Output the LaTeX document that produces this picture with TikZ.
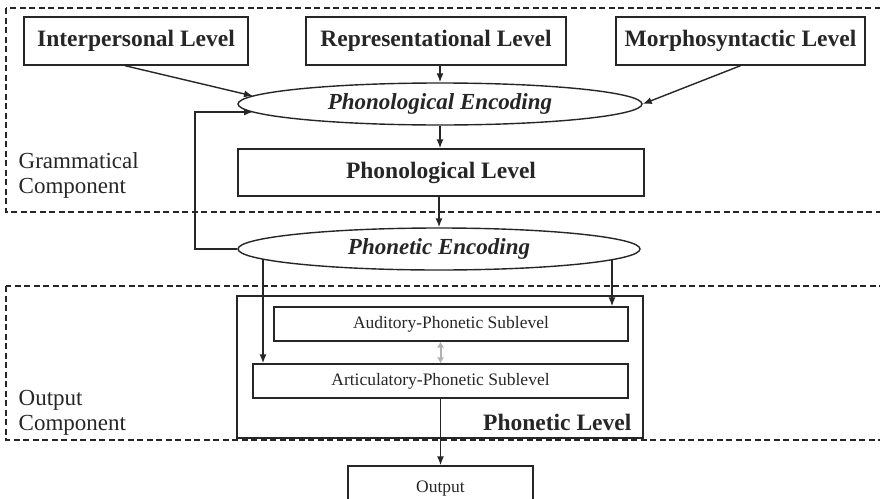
\documentclass[tikz,border=0pt]{standalone}
\usepackage{fontspec}
\setmainfont{Liberation Serif}
\usetikzlibrary{shapes.geometric,arrows.meta,backgrounds}
\definecolor{ink}{HTML}{262626}
\tikzset{
  box/.style={draw=ink, line width=1.4pt, rectangle, inner sep=0pt, text=ink},
  levelbox/.style={box, font=\fontsize{23.5}{27}\selectfont\bfseries},
  subbox/.style={box, font=\fontsize{17.5}{20}\selectfont},
  encoder/.style={draw=ink, line width=1.4pt, fill=white, ellipse, inner sep=0pt, text=ink,
    font=\fontsize{23}{26}\selectfont\bfseries\itshape},
  component/.style={dash pattern=on 6pt off 3.5pt, draw=ink, line width=1.2pt},
  complabel/.style={align=left, anchor=west, inner sep=0pt,
    font=\fontsize{23}{25}\selectfont, text=ink},
  link/.style={draw=ink, line width=1.4pt, -{Latex[length=9pt,width=7pt]}},
  softlink/.style={draw=gray!60, line width=2pt,
    {Latex[length=6pt,width=7.5pt]}-{Latex[length=6pt,width=7.5pt]}},
}
\begin{document}
\begin{tikzpicture}[x=1pt, y=-1pt, line width=1.4pt]
\clip (0,0) rectangle (880,498);

% component frames
\draw[component] (6,8) rectangle (890,212);
\draw[component] (6,286) rectangle (890,440);
\node[complabel] (gramlabel) at (18,175) {Grammatical\\Component};
\node[complabel] (outlabel) at (18,413) {Output\\Component};

% grammatical levels
\node[levelbox, minimum width=224pt, minimum height=48pt] (interp) at (136,41) {Interpersonal Level};
\node[levelbox, minimum width=260pt, minimum height=48pt] (repr) at (436,41) {Representational Level};
\node[levelbox, minimum width=249pt, minimum height=48pt] (morph) at (740.5,41) {Morphosyntactic Level};

\node[encoder, minimum width=404pt, minimum height=42pt] (phonenc) at (440,104) {Phonological Encoding};
\node[levelbox, minimum width=406pt, minimum height=47pt] (phonlevel) at (441,172.5) {Phonological Level};

\node[encoder, minimum width=402pt, minimum height=42pt] (phonetenc) at (439,249) {Phonetic Encoding};

% phonetic level with its two sublevels
\node[box, minimum width=406pt, minimum height=142pt] (phonetlevel) at (440,367) {};
\node[anchor=east, inner sep=0pt, font=\fontsize{23.5}{27}\selectfont\bfseries, text=ink]
  (phonetlabel) at (632,422) {Phonetic Level};
\node[subbox, minimum width=354pt, minimum height=34pt] (aud) at (451,324) {Auditory-Phonetic Sublevel};
\node[subbox, minimum width=375pt, minimum height=34pt] (art) at (440.5,381) {Articulatory-Phonetic Sublevel};

\node[subbox, minimum width=185pt, minimum height=46pt] (output) at (440.5,489) {Output};

% entry points on the encoders
\coordinate (interpin) at (253,96);
\coordinate (loopin) at (253,112);
\coordinate (loopcorner) at (195,112);
\coordinate (artfeed) at (263,249);
\coordinate (audfeed) at (612,249);

% connectors
\draw[link] (interp.south) ++(-11,0) coordinate (interpout) -- (interpin);
\draw[link] (repr.south -| phonenc.center) -- (phonenc.north);
\draw[link] (morph.south) -- (phonenc.east);
\draw[link] (phonenc.south) -- (phonlevel.north -| phonenc.south);
\draw[link] (phonlevel.south -| phonetenc.north) -- (phonetenc.north);
\draw[link] (phonetenc.west) -| (loopcorner) -- (loopin);
\begin{scope}[on background layer]
  \draw[link] (artfeed) -- (art.north -| artfeed);
  \draw[link] (audfeed) -- (aud.north -| audfeed);
\end{scope}
\draw[softlink] (aud.south -| art.north) -- (art.north);
\draw[link] (art.south) -- (output.north);
\end{tikzpicture}
\end{document}
